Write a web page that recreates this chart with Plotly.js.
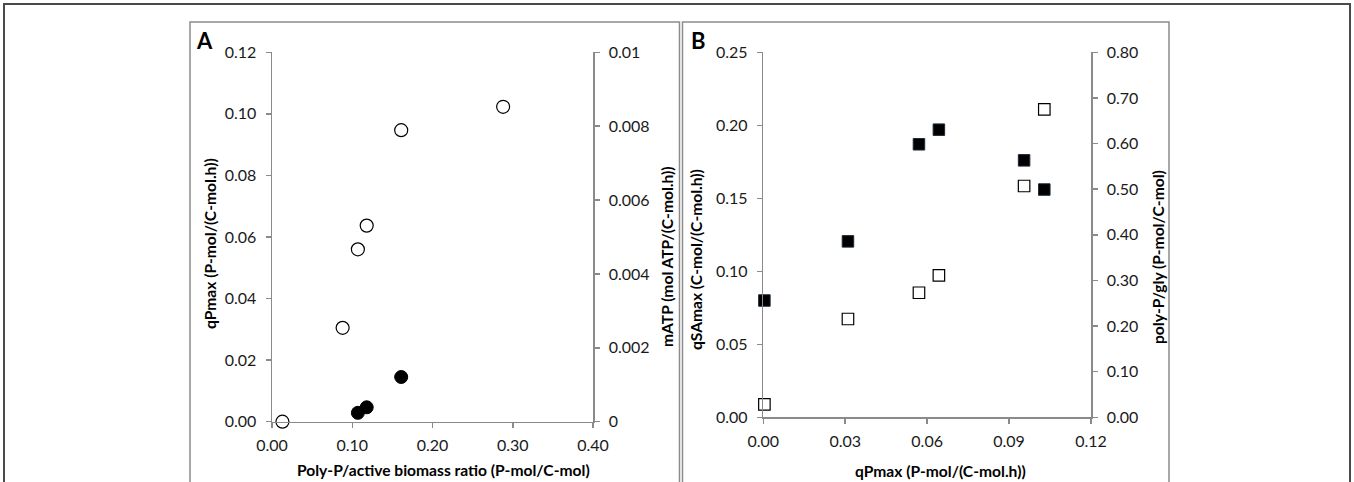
<!DOCTYPE html>
<html>
<head>
<meta charset="utf-8">
<script src="https://cdn.plot.ly/plotly-3.0.1.min.js"></script>
<style>html,body{margin:0;padding:0;background:#fff;}#chart{width:1354px;height:482px;}</style>
</head>
<body>
<div id="chart"></div>
<script>
// Panel A data
const ratioOpen = [0.013, 0.088, 0.107, 0.118, 0.161, 0.288];
const qPmaxA    = [0.000, 0.0305, 0.056, 0.0637, 0.0947, 0.1023];
const ratioFilled = [0.107, 0.118, 0.161];
const mATP        = [0.00024, 0.00039, 0.00121];
// Panel B data
const qPmaxB   = [0.0004, 0.031, 0.057, 0.0643, 0.0955, 0.1029];
const qSAmax   = [0.080, 0.1205, 0.187, 0.197, 0.176, 0.156];
const polyPgly = [0.0285, 0.2155, 0.273, 0.311, 0.507, 0.675];

const W = 1354, H = 482;
const px = v => v / W;
const py = v => 1 - v / H;

const FONT = 'Lato, "Open Sans", sans-serif';
const AX = '#8a8a8a';

function axisBase(extra) {
  return Object.assign({
    showline: true, linecolor: AX, linewidth: 1.5,
    ticks: 'outside', ticklen: 5, tickcolor: AX, tickwidth: 1.5,
    showgrid: false, zeroline: false, fixedrange: true,
    tickfont: {family: FONT, size: 16, color: '#1a1a1a'},
    ticklabelstandoff: 6
  }, extra);
}

const traces = [
  {x: ratioOpen, y: qPmaxA, xaxis: 'x', yaxis: 'y', type: 'scatter', mode: 'markers', cliponaxis: false,
   marker: {symbol: 'circle', size: 13, color: '#ffffff', line: {color: '#000', width: 1.2}}},
  {x: ratioFilled, y: mATP, xaxis: 'x', yaxis: 'y2', type: 'scatter', mode: 'markers', cliponaxis: false,
   marker: {symbol: 'circle', size: 13, color: '#000', line: {color: '#000', width: 1}}},
  {x: qPmaxB, y: qSAmax, xaxis: 'x2', yaxis: 'y3', type: 'scatter', mode: 'markers', cliponaxis: false,
   marker: {symbol: 'square', size: 11.5, color: '#000', line: {color: '#1a2a3a', width: 1}}},
  {x: qPmaxB, y: polyPgly, xaxis: 'x2', yaxis: 'y4', type: 'scatter', mode: 'markers', cliponaxis: false,
   marker: {symbol: 'square', size: 11.5, color: '#ffffff', line: {color: '#000', width: 1.2}}}
];

const titleFont = {family: FONT, size: 15.6, color: '#000'};
function ann(text, x, y, angle, size) {
  return {text: '<b>' + text + '</b>', x: px(x), y: py(y), xref: 'paper', yref: 'paper',
          xanchor: 'center', yanchor: 'middle', showarrow: false, textangle: angle || 0,
          font: Object.assign({}, titleFont, size ? {size: size} : {})};
}

const layout = {
  width: W, height: H,
  margin: {l: 0, r: 0, t: 0, b: 0},
  paper_bgcolor: '#fff', plot_bgcolor: 'rgba(0,0,0,0)',
  showlegend: false,
  xaxis: axisBase({domain: [px(272), px(593)], range: [0, 0.4], dtick: 0.1, tickformat: '.2f', anchor: 'y', ticklabelstandoff: 4}),
  yaxis: axisBase({domain: [py(421.7), py(52.3)], range: [0, 0.12], dtick: 0.02, tickformat: '.2f', anchor: 'x'}),
  yaxis2: axisBase({domain: [py(421.7), py(52.3)], range: [0, 0.01], dtick: 0.002, overlaying: 'y', side: 'right', anchor: 'x'}),
  xaxis2: axisBase({domain: [px(763.3), px(1091)], range: [0, 0.12], dtick: 0.03, tickformat: '.2f', anchor: 'y3', ticklabelstandoff: 4}),
  yaxis3: axisBase({domain: [py(417.3), py(52.3)], range: [0, 0.25], dtick: 0.05, tickformat: '.2f', anchor: 'x2'}),
  yaxis4: axisBase({domain: [py(417.3), py(52.3)], range: [0, 0.8], dtick: 0.1, tickformat: '.2f', overlaying: 'y3', side: 'right', anchor: 'x2'}),
  shapes: [
    {type: 'rect', xref: 'paper', yref: 'paper', x0: px(4), x1: px(1350), y0: -0.1, y1: py(4), line: {color: '#4a4a4a', width: 2}},
    {type: 'rect', xref: 'paper', yref: 'paper', x0: px(190), x1: px(679.5), y0: -0.1, y1: py(22), line: {color: '#8c8c8c', width: 1.5}},
    {type: 'rect', xref: 'paper', yref: 'paper', x0: px(682.5), x1: px(1169), y0: -0.1, y1: py(22), line: {color: '#8c8c8c', width: 1.5}}
  ],
  annotations: [
    ann('A', 205, 40, 0, 22),
    ann('B', 698, 40, 0, 22),
    ann('qPmax (P-mol/(C-mol.h))', 210, 244, -90),
    ann('mATP (mol ATP/(C-mol.h))', 667, 257, -90),
    ann('Poly-P/active biomass ratio (P-mol/C-mol)', 443, 470, 0),
    ann('qSAmax (C-mol/(C-mol.h))', 696, 260, -90),
    ann('poly-P/gly (P-mol/C-mol)', 1158, 257, -90),
    ann('qPmax (P-mol/(C-mol.h))', 940, 471, 0)
  ]
};

Plotly.newPlot('chart', traces, layout, {displayModeBar: false, staticPlot: true});
</script>
</body>
</html>
